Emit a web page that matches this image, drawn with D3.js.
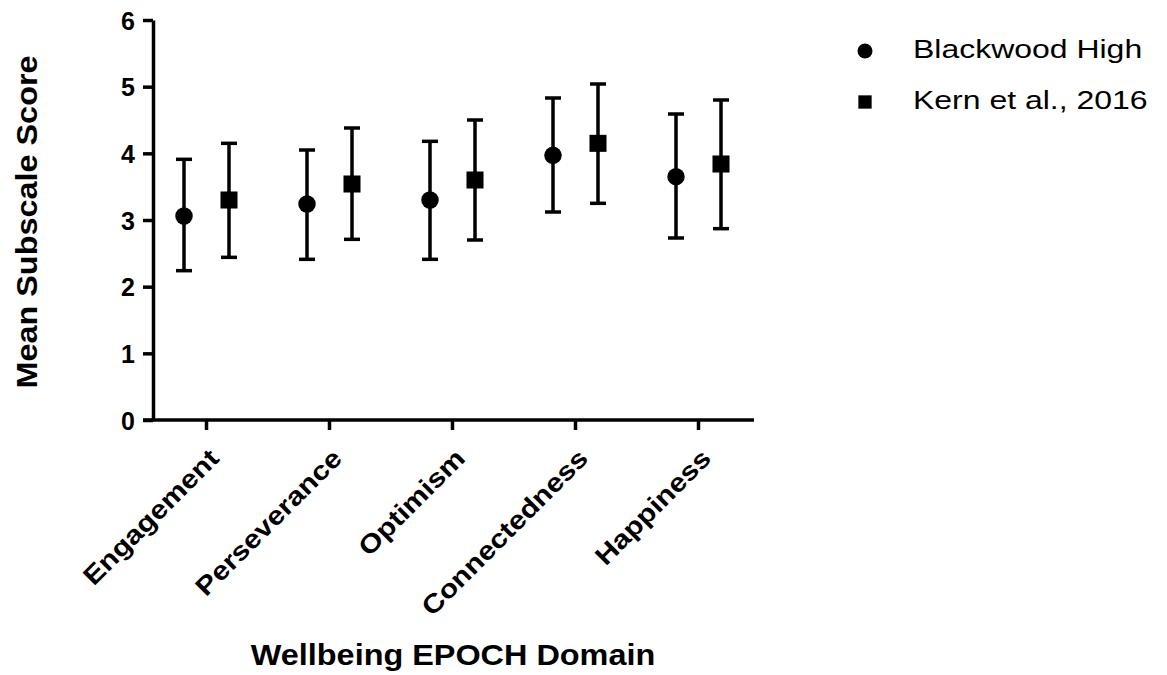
<!DOCTYPE html>
<html>
<head>
<meta charset="utf-8">
<script src="https://cdn.jsdelivr.net/npm/d3@7"></script>
<style>
  body { margin: 0; background: #fff; }
  text { font-family: "Liberation Sans", Arial, sans-serif; fill: #000; }
  .axis path, .axis line { stroke: #000; stroke-width: 3.5; }
</style>
</head>
<body>
<div id="chart"></div>
<script>
// EPOCH domains on the x axis
let domains = ["Engagement", "Perseverance", "Optimism", "Connectedness", "Happiness"]
let yTicks = [0, 1, 2, 3, 4, 5, 6]

// Blackwood High: mean and error bar ends
let bhMean = [3.06, 3.24, 3.30, 3.97, 3.65]
let bhLow  = [2.24, 2.41, 2.41, 3.12, 2.73]
let bhHigh = [3.91, 4.05, 4.18, 4.83, 4.59]

// Kern et al., 2016
let kernMean = [3.30, 3.54, 3.60, 4.15, 3.84]
let kernLow  = [2.44, 2.71, 2.70, 3.25, 2.87]
let kernHigh = [4.15, 4.38, 4.50, 5.04, 4.80]

let seriesNames = ["Blackwood High", "Kern et al., 2016"]

let width = 1167, height = 675
let margin = {top: 20, left: 153, bottom: 255}

let svg = d3.select("#chart").append("svg")
    .attr("width", width)
    .attr("height", height)

let y = d3.scaleLinear().domain([0, 6]).range([height - margin.bottom, margin.top])
let x = d3.scalePoint().domain(domains).range([206, 698])

// y axis
let yAxis = svg.append("g")
    .attr("class", "axis")
    .attr("transform", `translate(${margin.left},0)`)
    .call(d3.axisLeft(y).tickValues(yTicks).tickFormat(d3.format("d"))
        .tickSize(10).tickSizeOuter(0).tickPadding(8))
yAxis.selectAll(".tick text")
    .attr("font-size", 25)
    .attr("font-weight", "bold")
    .attr("font-family", null)
    .attr("dy", "0.36em")

// x axis
let xAxis = svg.append("g")
    .attr("class", "axis")
    .attr("transform", `translate(0,${y(0)})`)
    .call(d3.axisBottom(x).tickSize(10).tickSizeOuter(0))
xAxis.select(".domain").attr("d", `M${margin.left - 10},0H754`)
xAxis.selectAll(".tick text")
    .attr("text-anchor", "end")
    .attr("font-size", 26)
    .attr("font-weight", "bold")
    .attr("font-family", null)
    .attr("dy", null)
    .attr("y", null)
    .attr("transform", "translate(14,40) rotate(-45) scale(1.15,1)")

// axis titles
svg.append("text")
    .attr("transform", `translate(37,222) rotate(-90) scale(1.08,1)`)
    .attr("text-anchor", "middle")
    .style("font-size", "30px")
    .style("font-weight", "bold")
    .text("Mean Subscale Score")

svg.append("text")
    .attr("transform", "translate(453,665) scale(1.08,1)")
    .attr("text-anchor", "middle")
    .style("font-size", "30px")
    .style("font-weight", "bold")
    .text("Wellbeing EPOCH Domain")

// build rows for both series
let series = [
    {name: seriesNames[0], shape: d3.symbolCircle, offset: -22, size: 240, mean: bhMean, low: bhLow, high: bhHigh},
    {name: seriesNames[1], shape: d3.symbolSquare, offset: 23, size: 290, mean: kernMean, low: kernLow, high: kernHigh}
]

series.forEach(function (s) {
    let rows = domains.map(function (d, i) {
        return {domain: d, mean: s.mean[i], low: s.low[i], high: s.high[i]}
    })
    let g = svg.append("g")

    let bars = g.selectAll(".err").data(rows).enter().append("g")
        .attr("transform", d => `translate(${x(d.domain) + s.offset},0)`)

    bars.append("line")
        .attr("y1", d => y(d.low))
        .attr("y2", d => y(d.high))
        .attr("stroke", "#000").attr("stroke-width", 3.5)
    bars.append("line")
        .attr("x1", -8).attr("x2", 8)
        .attr("y1", d => y(d.high)).attr("y2", d => y(d.high))
        .attr("stroke", "#000").attr("stroke-width", 3.5)
    bars.append("line")
        .attr("x1", -8).attr("x2", 8)
        .attr("y1", d => y(d.low)).attr("y2", d => y(d.low))
        .attr("stroke", "#000").attr("stroke-width", 3.5)

    bars.append("path")
        .attr("d", d3.symbol().type(s.shape).size(s.size))
        .attr("transform", d => `translate(0,${y(d.mean)})`)
        .attr("fill", "#000")
})

// legend
let legend = svg.append("g").attr("transform", "translate(865,0)")
let legendItems = legend.selectAll(".item").data(series).enter().append("g")
    .attr("transform", (d, i) => `translate(0,${51 + i * 51})`)
legendItems.append("path")
    .attr("d", d => d3.symbol().type(d.shape).size(177)())
    .attr("fill", "#000")
legendItems.append("text")
    .attr("transform", "translate(48,7) scale(1.23,1)")
    .style("font-size", "26px")
    .text(d => d.name)
</script>
</body>
</html>
